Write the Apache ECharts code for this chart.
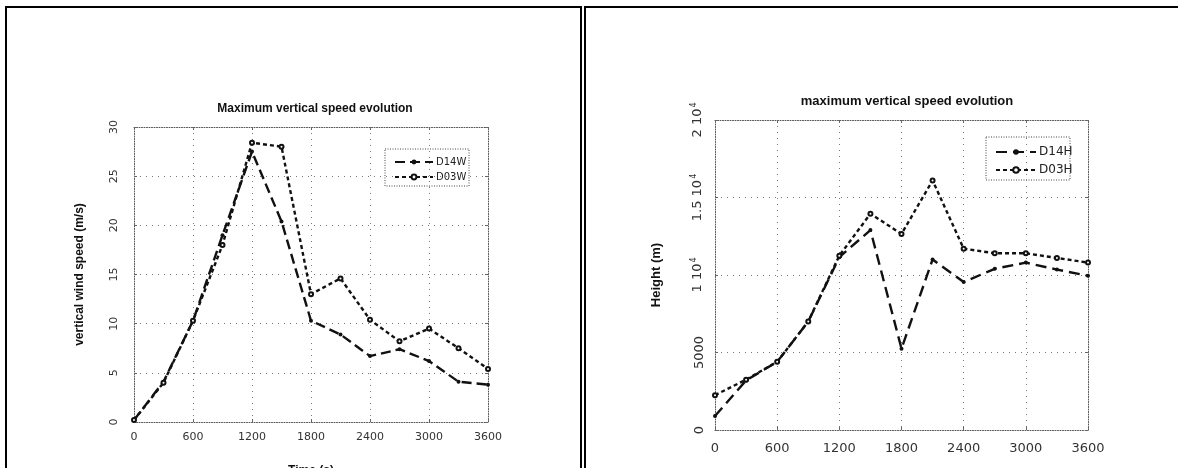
<!DOCTYPE html>
<html>
<head>
<meta charset="utf-8">
<script src="https://cdn.jsdelivr.net/npm/echarts@6/dist/echarts.min.js"></script>
<style>
    html, body { margin: 0; background: #fff; }
    #chart { width: 1178px; height: 468px; }
</style>
</head>
<body>
<div id="chart"></div>
<script>
    // time steps (s)
    var times = [0, 300, 600, 900, 1200, 1500, 1800, 2100, 2400, 2700, 3000, 3300, 3600]
    // max vertical wind speed (m/s)
    var d14w = [0.2, 4.1, 10.3, 19, 27.5, 20.4, 10.3, 8.9, 6.7, 7.4, 6.2, 4.1, 3.8]
    var d03w = [0.2, 4.0, 10.3, 18, 28.4, 28.0, 13.0, 14.6, 10.4, 8.2, 9.5, 7.5, 5.4]
    // height of the max (m)
    var d14h = [900, 3200, 4400, 7000, 11150, 12900, 5250, 11000, 9550, 10400, 10800, 10350, 9950]
    var d03h = [2250, 3250, 4400, 7000, 11250, 13950, 12650, 16100, 11700, 11400, 11400, 11100, 10800]
    // tick labels
    var timeTicks = [0, 600, 1200, 1800, 2400, 3000, 3600]
    var speedTicks = [0, 5, 10, 15, 20, 25, 30]
    var heightTicks = [0, 5000, 10000, 15000, 20000]
    var heightLabels = ['{n|0}', '{n|5000}', '{n|1 10}{e|4}', '{n|1.5 10}{e|4}', '{n|2 10}{e|4}']

    function pairs(ys) {
        return times.map(function (t, i) { return [t, ys[i]] })
    }

    var frame = {type: [1, 1.5], color: '#555', width: 1}
    var gridDots = {type: [1, 5], color: '#777', width: 1}
    var font = 'DejaVu Sans'
    var boldFont = 'Liberation Sans'

    // box edges on top / right, no labels
    function edge(gridIndex, position, min, max, interval) {
        return {
            type: 'value', gridIndex: gridIndex, position: position,
            min: min, max: max, interval: interval,
            axisLine: {show: true, onZero: false, lineStyle: frame},
            axisTick: {show: true, inside: true, length: 3, lineStyle: {color: '#666'}},
            axisLabel: {show: false},
            splitLine: {show: false}
        }
    }

    var chart = echarts.init(document.getElementById('chart'), null, {renderer: 'canvas'})
    chart.setOption({
        backgroundColor: '#fff',
        animation: false,
        title: [
            {
                text: 'Maximum vertical speed evolution',
                left: 310, top: 98, textAlign: 'center',
                textStyle: {fontFamily: boldFont, fontSize: 12, fontWeight: 'bold', color: '#111'}
            },
            {
                text: 'maximum vertical speed evolution',
                left: 902, top: 90, textAlign: 'center',
                textStyle: {fontFamily: boldFont, fontSize: 13, fontWeight: 'bold', color: '#111'}
            }
        ],
        legend: [
            {
                data: ['D14W', 'D03W'],
                orient: 'vertical', left: 389, top: 152,
                itemWidth: 38, itemHeight: 6, itemGap: 5,
                textStyle: {fontFamily: font, fontSize: 10, color: '#222', padding: [0, 0, 0, -2]}
            },
            {
                data: ['D14H', 'D03H'],
                orient: 'vertical', left: 990, top: 141,
                itemWidth: 40, itemHeight: 7, itemGap: 6,
                textStyle: {fontFamily: font, fontSize: 12, color: '#222', padding: [0, 0, 0, -2]}
            }
        ],
        grid: [
            {left: 134, top: 127, width: 354, height: 295, containLabel: false, outerBoundsMode: 'none'},
            {left: 715, top: 120, width: 373, height: 310, containLabel: false, outerBoundsMode: 'none'}
        ],
        xAxis: [
            {
                type: 'value', gridIndex: 0, min: 0, max: 3600, interval: 600,
                name: 'Time (s)', nameLocation: 'middle', nameGap: 43,
                nameTextStyle: {fontFamily: boldFont, fontSize: 12, fontWeight: 'bold', color: '#111'},
                axisLine: {show: true, lineStyle: frame},
                axisTick: {show: true, inside: true, length: 3, lineStyle: {color: '#666'}},
                axisLabel: {fontFamily: font, fontSize: 11, color: '#333', margin: 10,
                    formatter: function (v) { return timeTicks.indexOf(v) >= 0 ? String(v) : '' }},
                splitLine: {show: true, showMinLine: false, showMaxLine: false, lineStyle: gridDots}
            },
            {
                type: 'value', gridIndex: 1, min: 0, max: 3600, interval: 600,
                axisLine: {show: true, lineStyle: frame},
                axisTick: {show: true, inside: true, length: 3, lineStyle: {color: '#666'}},
                axisLabel: {fontFamily: font, fontSize: 13, color: '#333', margin: 12,
                    formatter: function (v) { return timeTicks.indexOf(v) >= 0 ? String(v) : '' }},
                splitLine: {show: true, showMinLine: false, showMaxLine: false, lineStyle: gridDots}
            },
            edge(0, 'top', 0, 3600, 600),
            edge(1, 'top', 0, 3600, 600)
        ],
        yAxis: [
            {
                type: 'value', gridIndex: 0, min: 0, max: 30, interval: 5,
                name: 'vertical wind speed (m/s)', nameLocation: 'middle', nameGap: 48,
                nameTextStyle: {fontFamily: boldFont, fontSize: 12, fontWeight: 'bold', color: '#111'},
                axisLine: {show: true, lineStyle: frame},
                axisTick: {show: true, inside: true, length: 3, lineStyle: {color: '#666'}},
                axisLabel: {fontFamily: font, fontSize: 11, color: '#333', rotate: 90, margin: 14,
                    formatter: function (v) { return speedTicks.indexOf(v) >= 0 ? String(v) : '' }},
                splitLine: {show: true, showMinLine: false, showMaxLine: false, lineStyle: gridDots}
            },
            {
                type: 'value', gridIndex: 1, min: 0, max: 20000, interval: 5000,
                name: 'Height (m)', nameLocation: 'middle', nameGap: 52,
                nameTextStyle: {fontFamily: boldFont, fontSize: 13, fontWeight: 'bold', color: '#111'},
                axisLine: {show: true, lineStyle: frame},
                axisTick: {show: true, inside: true, length: 3, lineStyle: {color: '#666'}},
                axisLabel: {
                    rotate: 90, margin: 9,
                    formatter: function (v) {
                        var i = heightTicks.indexOf(v)
                        return i >= 0 ? heightLabels[i] : ''
                    },
                    rich: {
                        n: {fontFamily: font, fontSize: 13, color: '#333'},
                        e: {fontFamily: font, fontSize: 8, color: '#333', padding: [0, 0, 8, 1]}
                    }
                },
                splitLine: {show: true, showMinLine: false, showMaxLine: false, lineStyle: gridDots}
            },
            edge(0, 'right', 0, 30, 5),
            edge(1, 'right', 0, 20000, 5000)
        ],
        series: [
            {
                name: 'D14W', type: 'line', xAxisIndex: 0, yAxisIndex: 0,
                data: pairs(d14w),
                symbol: 'circle', symbolSize: 4,
                itemStyle: {color: '#111'},
                lineStyle: {color: '#111', width: 2.4, type: [10, 5]}
            },
            {
                name: 'D03W', type: 'line', xAxisIndex: 0, yAxisIndex: 0,
                data: pairs(d03w),
                symbol: 'emptyCircle', symbolSize: 4,
                itemStyle: {color: '#111', borderWidth: 1},
                lineStyle: {color: '#111', width: 2.4, type: [4, 3]}
            },
            {
                name: 'D14H', type: 'line', xAxisIndex: 1, yAxisIndex: 1,
                data: pairs(d14h),
                symbol: 'circle', symbolSize: 4,
                itemStyle: {color: '#111'},
                lineStyle: {color: '#111', width: 2.4, type: [11, 6]}
            },
            {
                name: 'D03H', type: 'line', xAxisIndex: 1, yAxisIndex: 1,
                data: pairs(d03h),
                symbol: 'emptyCircle', symbolSize: 4,
                itemStyle: {color: '#111', borderWidth: 1},
                lineStyle: {color: '#111', width: 2.4, type: [4, 3]}
            }
        ],
        graphic: [
            // panel frames
            {type: 'polyline', silent: true, shape: {points: [[6, 470], [6, 7], [581, 7], [581, 470]]},
                style: {stroke: '#000', lineWidth: 2, fill: null}},
            {type: 'polyline', silent: true, shape: {points: [[585, 470], [585, 7], [1180, 7]]},
                style: {stroke: '#000', lineWidth: 2, fill: null}},
            // legend boxes
            {type: 'rect', silent: true, shape: {x: 385, y: 149, width: 84, height: 37},
                style: {stroke: '#444', lineWidth: 1, lineDash: [1, 1.5], fill: null}},
            {type: 'rect', silent: true, shape: {x: 986, y: 137, width: 84, height: 43},
                style: {stroke: '#444', lineWidth: 1, lineDash: [1, 1.5], fill: null}}
        ]
    })
</script>
</body>
</html>
